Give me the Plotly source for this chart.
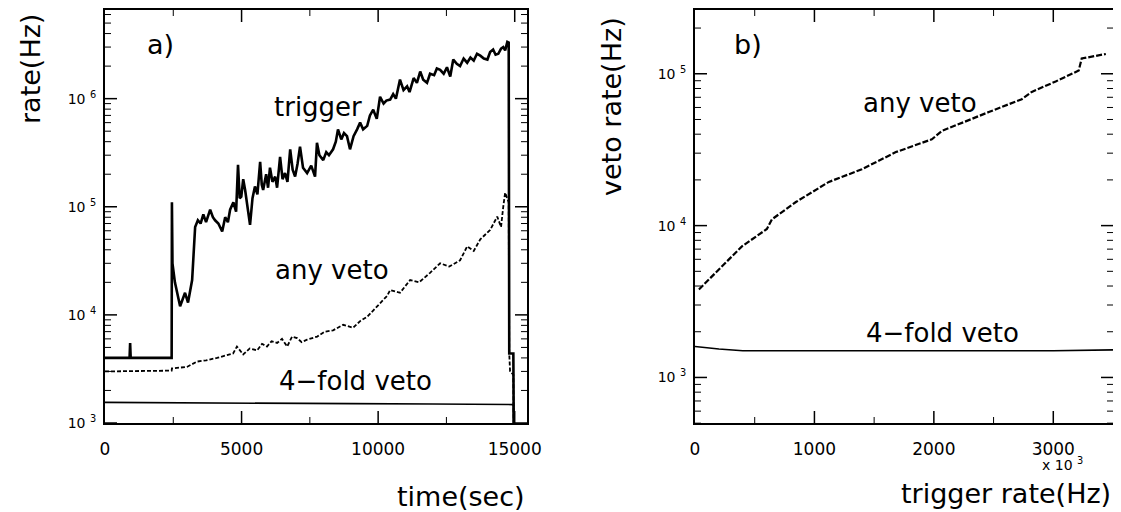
import math
import plotly.graph_objects as go

# ---------------- data: panel a) rate vs time ----------------
trig_time = [0, 900, 920, 940, 2440, 2450, 2470, 2560, 2750, 2930, 3040, 3190, 3300, 3400,
             3500, 3600, 3700, 3850, 3950, 4030, 4150, 4290, 4400, 4500, 4580, 4700, 4800,
             4870, 4930, 4990, 5060, 5130, 5200, 5310, 5400, 5490, 5580, 5680, 5740, 5790,
             5900, 5970, 6040, 6130, 6230, 6300, 6410, 6500, 6590, 6680, 6780, 6870, 6960,
             7050, 7140, 7250, 7400, 7550, 7690, 7760, 7850, 7990, 8100, 8200, 8350, 8450,
             8530, 8650, 8750, 8860, 8970, 9100, 9230, 9340, 9450, 9600, 9700, 9820, 9950,
             10070, 10200, 10300, 10440, 10550, 10650, 10800, 10930, 11060, 11150, 11300,
             11420, 11540, 11650, 11790, 11900, 12050, 12150, 12270, 12400, 12520, 12640,
             12750, 12880, 13000, 13130, 13260, 13380, 13500, 13620, 13740, 13870, 14000,
             14100, 14210, 14300, 14400, 14500, 14580, 14650, 14730, 14780, 14800, 14950,
             14970]
trig_rate = [4000, 4000, 5500, 4000, 4000, 110000, 30000, 20000, 12000, 16000, 13000, 21000,
             65000, 75000, 70000, 85000, 72000, 94000, 80000, 75000, 70000, 59000, 80000,
             72000, 94000, 110000, 90000, 245000, 120000, 124000, 180000, 143000, 110000,
             68000, 120000, 154000, 130000, 260000, 160000, 143000, 200000, 150000, 230000,
             170000, 190000, 150000, 290000, 180000, 205000, 170000, 340000, 220000, 190000,
             250000, 360000, 230000, 205000, 240000, 190000, 390000, 300000, 270000, 320000,
             300000, 340000, 400000, 520000, 420000, 480000, 450000, 340000, 450000, 520000,
             600000, 520000, 560000, 700000, 790000, 650000, 1040000, 900000, 960000, 980000,
             1100000, 1000000, 1500000, 1200000, 1300000, 1150000, 1550000, 1400000, 1780000,
             1500000, 1400000, 1700000, 1650000, 1900000, 1850000, 1700000, 1950000, 1600000,
             2300000, 2100000, 2000000, 2350000, 2150000, 2400000, 2250000, 2600000, 2500000,
             2350000, 2300000, 2700000, 2850000, 2550000, 2600000, 2900000, 3000000, 2800000,
             3350000, 3300000, 4400, 4400, 500]

anyveto_time = [0, 2440, 2450, 3000, 3370, 3700, 4100, 4400, 4690, 4830, 5060, 5300, 5570,
                5750, 5930, 6100, 6300, 6480, 6670, 6850, 7030, 7200, 7400, 7770, 8050, 8350,
                8720, 9080, 9350, 9600, 9960, 10330, 10440, 10800, 11170, 11500, 11900, 12270,
                12600, 13000, 13260, 13500, 13740, 14100, 14360, 14500, 14580, 14650, 14780,
                14800, 14830, 14950, 14970]
anyveto_rate = [3000, 3050, 3200, 3300, 3700, 3800, 4000, 4200, 4400, 5100, 4300, 4900, 4700,
                5400, 5100, 5700, 5500, 6000, 5100, 6300, 6100, 5600, 5900, 6300, 7000, 7200,
                8100, 7600, 8800, 9600, 12000, 15000, 17000, 16000, 21000, 20000, 24500, 30000,
                28000, 32000, 43000, 39000, 50000, 61000, 81000, 65000, 100000, 135000, 110000,
                4400, 3000, 2800, 500]

fourfold_time = [0, 3000, 6000, 9000, 12000, 14950, 14970]
fourfold_rate = [1550, 1530, 1520, 1510, 1500, 1480, 500]

# ---------------- data: panel b) veto rate vs trigger rate (x 10^3 Hz) ----------------
b_trig = [33, 226, 393, 602, 644, 845, 1121, 1397, 1682, 1983, 2067, 2460, 2736, 2820,
          3020, 3213, 3238, 3440]
b_anyveto = [3800, 5400, 7300, 9500, 11000, 14300, 19400, 23500, 30500, 37000, 42000,
             56000, 68000, 76000, 89000, 105000, 126000, 135000]

b4_trig = [0, 200, 400, 1000, 2000, 3000, 3500]
b4_rate = [1600, 1540, 1500, 1500, 1500, 1500, 1520]

# tick labels
a_xticks = [0, 5000, 10000, 15000]
b_xticks = [0, 1000, 2000, 3000]
a_yticks = [1e3, 1e4, 1e5, 1e6]
b_yticks = [1e3, 1e4, 1e5]

# figure sized to sit inside the page's default 8px body margin
OFF = 8
W, H = 1121 - OFF, 512 - OFF
FONT = "DejaVu Sans"
blk = "black"


def fx(px):
    return (px - OFF) / W


def fy(py):
    return 1 - (py - OFF) / H


def sup_labels(vals):
    return ["10 <sup>%d</sup>" % round(math.log10(v)) for v in vals]


def log_minor(lo, hi, vmin, vmax):
    return [m * 10 ** e for e in range(lo, hi + 1) for m in range(2, 10)
            if vmin <= m * 10 ** e <= vmax]


fig = go.Figure()
fig.add_trace(go.Scatter(x=trig_time, y=trig_rate, mode="lines",
                         line=dict(color=blk, width=2.6), xaxis="x", yaxis="y"))
fig.add_trace(go.Scatter(x=anyveto_time, y=anyveto_rate, mode="lines",
                         line=dict(color=blk, width=1.8, dash="4px,2px"), xaxis="x", yaxis="y"))
fig.add_trace(go.Scatter(x=fourfold_time, y=fourfold_rate, mode="lines",
                         line=dict(color=blk, width=1.6), xaxis="x", yaxis="y"))
fig.add_trace(go.Scatter(x=b_trig, y=b_anyveto, mode="lines",
                         line=dict(color=blk, width=2.2, dash="6px,2px"), xaxis="x2", yaxis="y2"))
fig.add_trace(go.Scatter(x=b4_trig, y=b4_rate, mode="lines",
                         line=dict(color=blk, width=1.6), xaxis="x2", yaxis="y2"))

base = dict(showline=True, linecolor=blk, linewidth=2, mirror=True, ticks="",
            showgrid=False, zeroline=False, automargin=False)
xfont = dict(family=FONT, size=17, color=blk)
yfont = dict(family=FONT, size=14, color=blk)

ydom = [fy(423), fy(10)]
xdom_a = [fx(105), fx(527)]
xdom_b = [fx(695), fx(1113)]

fig.update_layout(
    width=W, height=H, margin=dict(l=0, r=0, t=0, b=0, autoexpand=False),
    paper_bgcolor="white", plot_bgcolor="white", showlegend=False,
    xaxis=dict(base, domain=xdom_a, range=[0, 15450], anchor="y",
               tickvals=a_xticks, ticktext=[str(v) for v in a_xticks],
               ticklabelstandoff=10, tickfont=xfont),
    yaxis=dict(base, domain=ydom, type="log", range=[3, 6.82], anchor="x",
               tickvals=a_yticks, ticktext=sup_labels(a_yticks), tickfont=yfont,
               ticklabelstandoff=4),
    xaxis2=dict(base, domain=xdom_b, range=[0, 3500], anchor="y2",
                tickvals=b_xticks, ticktext=[str(v) for v in b_xticks],
                ticklabelstandoff=10, tickfont=xfont),
    yaxis2=dict(base, domain=ydom, type="log", range=[2.70, 5.42], anchor="x2",
                tickvals=b_yticks, ticktext=sup_labels(b_yticks), tickfont=yfont,
                ticklabelstandoff=4),
)

# inside tick marks on all four sides, placed through the axes themselves
plot_h = (ydom[1] - ydom[0]) * H


def x_ticks(xref, vals, length_px, width):
    frac = length_px / plot_h
    for v in vals:
        for y0, y1 in ((0, frac), (1 - frac, 1)):
            fig.add_shape(type="line", xref=xref, yref=xref.replace("x", "y") + " domain",
                          x0=v, x1=v, y0=y0, y1=y1, layer="above",
                          line=dict(color=blk, width=width))


def y_ticks(yref, vals, length_px, width, plot_w):
    frac = length_px / plot_w
    for v in vals:
        for x0, x1 in ((0, frac), (1 - frac, 1)):
            fig.add_shape(type="line", yref=yref, xref=yref.replace("y", "x") + " domain",
                          y0=v, y1=v, x0=x0, x1=x1, layer="above",
                          line=dict(color=blk, width=width))


wa = (xdom_a[1] - xdom_a[0]) * W
wb = (xdom_b[1] - xdom_b[0]) * W
x_ticks("x", a_xticks[1:], 12, 1.5)
x_ticks("x", [2500, 7500, 12500], 6, 1)
y_ticks("y", a_yticks, 12, 1.5, wa)
y_ticks("y", log_minor(3, 6, 1e3, 6.6e6), 6, 1, wa)
x_ticks("x2", b_xticks[1:], 12, 1.5)
x_ticks("x2", [500, 1500, 2500], 6, 1)
y_ticks("y2", b_yticks, 12, 1.5, wb)
y_ticks("y2", log_minor(2, 5, 500, 2.6e5), 6, 1, wb)


def ann(text, x, y, size, xanchor="center", angle=0):
    fig.add_annotation(text=text, x=fx(x), y=fy(y), xref="paper", yref="paper",
                       showarrow=False, xanchor=xanchor, yanchor="middle", textangle=angle,
                       font=dict(family=FONT, size=size, color=blk))


ann("a)", 160, 45, 27)
ann("b)", 748, 45, 27)
ann("trigger", 318, 107, 26)
ann("any veto", 332, 270, 26)
ann("4−fold veto", 355, 381, 26)
ann("any veto", 920, 103, 26)
ann("4−fold veto", 942, 333, 26)
ann("time(sec)", 527, 496, 27, xanchor="right")
ann("trigger rate(Hz)", 1113, 493, 27, xanchor="right")
ann("x 10 <sup>3</sup>", 1062, 464, 14)
ann("rate(Hz)", 30, 69, 27, angle=-90)
ann("veto rate(Hz)", 612, 107, 27, angle=-90)

fig.write_html("out.html")
